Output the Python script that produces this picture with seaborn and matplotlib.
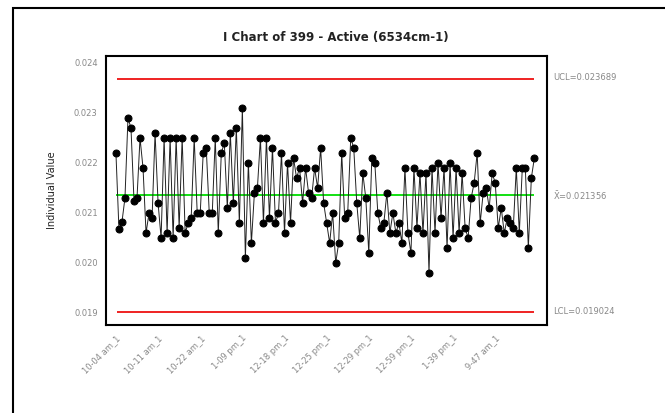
import numpy as np
import pandas as pd
import matplotlib
matplotlib.use("Agg")
import matplotlib.pyplot as plt
import seaborn as sns
from matplotlib.patches import Rectangle

values = [
    0.02220, 0.02068, 0.02082, 0.02130, 0.02290, 0.02270, 0.02125, 0.02130, 0.02250, 0.02190, 0.02060, 0.02100, 0.02090, 0.02260,
    0.02120, 0.02050, 0.02250, 0.02060, 0.02250, 0.02050, 0.02250, 0.02070, 0.02250, 0.02060, 0.02080, 0.02090, 0.02250, 0.02100,
    0.02100, 0.02220, 0.02230, 0.02100, 0.02100, 0.02250, 0.02060, 0.02220, 0.02240, 0.02110, 0.02260, 0.02120, 0.02270, 0.02080,
    0.02310, 0.02010, 0.02200, 0.02040, 0.02140, 0.02150, 0.02250, 0.02080, 0.02250, 0.02090, 0.02230, 0.02080, 0.02100, 0.02220,
    0.02060, 0.02200, 0.02080, 0.02210, 0.02170, 0.02190, 0.02120, 0.02190, 0.02140, 0.02130, 0.02190, 0.02150, 0.02230, 0.02120,
    0.02080, 0.02040, 0.02100, 0.02000, 0.02040, 0.02220, 0.02090, 0.02100, 0.02250, 0.02230, 0.02120, 0.02050, 0.02180, 0.02130,
    0.02020, 0.02210, 0.02200, 0.02100, 0.02070, 0.02080, 0.02140, 0.02060, 0.02100, 0.02060, 0.02080, 0.02040, 0.02190, 0.02060,
    0.02020, 0.02190, 0.02070, 0.02180, 0.02060, 0.02180, 0.01980, 0.02190, 0.02060, 0.02200, 0.02090, 0.02190, 0.02030, 0.02200,
    0.02050, 0.02190, 0.02060, 0.02180, 0.02070, 0.02050, 0.02130, 0.02160, 0.02220, 0.02080, 0.02140, 0.02150, 0.02110, 0.02180,
    0.02160, 0.02070, 0.02110, 0.02060, 0.02090, 0.02080, 0.02070, 0.02190, 0.02060, 0.02190, 0.02190, 0.02030, 0.02170, 0.02210,
]
tick_labels = ["10-04 am_1", "10-11 am_1", "10-22 am_1", "1-09 pm_1", "12-18 pm_1",
               "12-25 pm_1", "12-29 pm_1", "12-59 pm_1", "1-39 pm_1", "9-47 am_1"]
tick_step = 14
ucl = 0.023689
center = 0.021356
lcl = 0.019024
y_ticks = [0.019, 0.020, 0.021, 0.022, 0.023, 0.024]

df = pd.DataFrame({"obs": np.arange(len(values)), "value": values})

sns.set_style("white")
plt.rcParams["font.family"] = ["DejaVu Sans"]

fig = plt.figure(figsize=(6.65, 4.13), dpi=100)
ax = fig.add_axes([106/665, 1-325/413, (547-106)/665, (325-56)/413])

# outer frame
fig.patches.append(Rectangle((13/665, -0.05), 1.0, 1 - 8/413 + 0.05, transform=fig.transFigure,
                             fill=False, edgecolor="black", linewidth=1.5))

n = len(values)
ax.hlines([ucl, lcl], 0.5, n - 1.2, colors="#ee1111", linewidth=1.3, zorder=1)
ax.hlines([center], 0, n - 1, colors="#00dd00", linewidth=1.3, zorder=1)

sns.lineplot(data=df, x="obs", y="value", ax=ax, color="#222222", linewidth=0.7,
             marker="o", markersize=5, markeredgecolor="black", markerfacecolor="black", zorder=3)

ax.set_xlim(-3.3, 143.2)
ax.set_ylim(0.01876, 0.02414)
ax.set_yticks(y_ticks)
ax.set_yticklabels([f"{v:.3f}" for v in y_ticks], fontsize=6, color="#888888")
xt = [i * tick_step for i in range(len(tick_labels))]
ax.set_xticks(xt)
ax.set_xticklabels(tick_labels, rotation=45, ha="right", rotation_mode="anchor",
                   fontsize=6, color="#888888")
ax.tick_params(axis="both", direction="out", length=4, width=1.3, color="black", pad=2)
ax.set_xlabel("")
ax.set_ylabel("Individual Value", fontsize=7, color="#222222", labelpad=12)
for s in ax.spines.values():
    s.set_visible(True)
    s.set_color("black")
    s.set_linewidth(1.5)

fig.text(0.5 + 0.005, 1 - 38/413, "I Chart of 399 - Active (6534cm-1)", ha="center", va="center",
         fontsize=8.5, fontweight="bold", color="#222222")

tx = 553/665
fig.text(tx, 1 - 77/413, "UCL=0.023689", fontsize=6, color="#888888", va="center")
fig.text(tx, 1 - 196/413, r"$\bar{\mathregular{X}}$=0.021356", fontsize=6, color="#888888", va="center")
fig.text(tx, 1 - 312/413, "LCL=0.019024", fontsize=6, color="#888888", va="center")

fig.savefig("out.png", dpi=100)
